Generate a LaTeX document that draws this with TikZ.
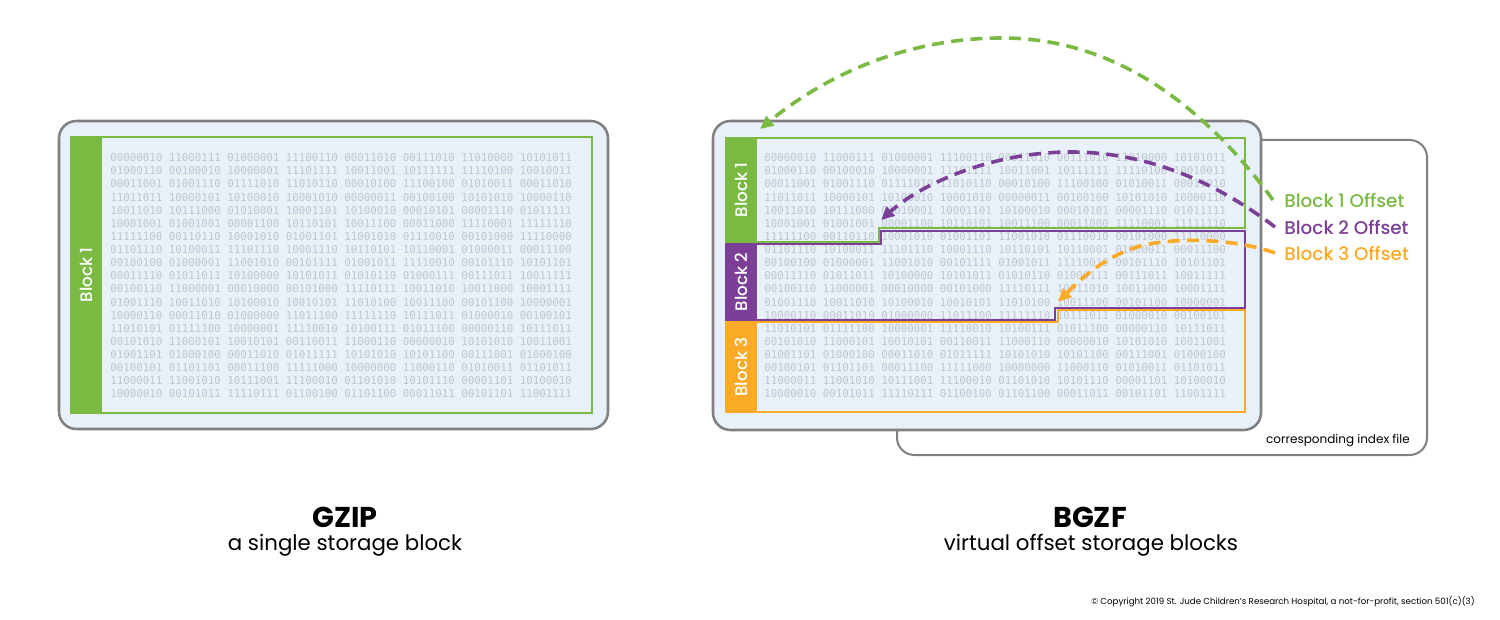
\documentclass[tikz,border=0pt]{standalone}
\usepackage{fontspec}
\setmainfont{Poppins}
\newfontfamily\medfont{Poppins Medium}
\newfontfamily\binfont{DejaVu Sans Mono}
\usetikzlibrary{arrows.meta}

\definecolor{blkgreen}{RGB}{122,186,67}
\definecolor{blkpurple}{RGB}{123,63,152}
\definecolor{blkorange}{RGB}{250,170,38}
\definecolor{panelblue}{RGB}{232,241,250}
\definecolor{boxgray}{RGB}{128,128,128}
\definecolor{bingray}{RGB}{192,197,206}

\newcommand\binrows{%
00000010 11000111 01000001 11100110 00011010 00111010 11010000 10101011,
01000110 00100010 10000001 11101111 10011001 10111111 11110100 10010011,
00011001 01001110 01111010 11010110 00010100 11100100 01010011 00011010,
11011011 10000101 10100010 10001010 00000011 00100100 10101010 10000110,
10011010 10111000 01010001 10001101 10100010 00010101 00001110 01011111,
10001001 01001001 00001100 10110101 10011100 00011000 11110001 11111110,
11111100 00110110 10001010 01001101 11001010 01110010 00101000 11110000,
01101110 10100011 11101110 10001110 10110101 10110001 01000011 00011100,
00100100 01000001 11001010 00101111 01001011 11110010 00101110 10101101,
00011110 01011011 10100000 10101011 01010110 01000111 00111011 10011111,
00100110 11000001 00010000 00101000 11110111 10011010 10011000 10001111,
01001110 10011010 10100010 10010101 11010100 10011100 00101100 10000001,
10000110 00011010 01000000 11011100 11111110 10111011 01000010 00100101,
11010101 01111100 10000001 11110010 10100111 01011100 00000110 10111011,
00101010 11000101 10010101 00110011 11000110 00000010 10101010 10011001,
01001101 01000100 00011010 01011111 10101010 10101100 00111001 01000100,
00100101 01101101 00011100 11111000 10000000 11000110 01010011 01101011,
11000011 11001010 10111001 11100010 01101010 10101110 00001101 10100010,
10000010 00101011 11110111 01100100 01101100 00011011 00101101 11001111}

\begin{document}
\begin{tikzpicture}[x=0.75pt,y=0.75pt,yscale=-1,xscale=1,
  binrow/.style={anchor=west,inner sep=0pt,text=bingray,font=\binfont\fontsize{8.1}{9.8}\selectfont},
  barlabel/.style={rotate=90,inner sep=0.75pt,text=white,font=\medfont\fontsize{12.5}{15}\selectfont},
  offlabel/.style={anchor=west,inner sep=0.75pt,font=\medfont\fontsize{13.8}{16}\selectfont},
  offarrow/.style={line width=2.7,dash pattern={on 9pt off 5.5pt},-{Triangle[length=10pt,width=9pt]}},
  panel/.style={draw=boxgray,line width=1.9,fill=panelblue,rounded corners=13}]
\useasboundingbox (0,0) rectangle (1500,620);

%Shape: Rounded Rect [GZIP panel]
\draw [panel] (59,121) rectangle (608,429);
\fill [blkgreen] (71,137) rectangle (101.5,413);
\draw [blkgreen,line width=1.5] (71,137) rectangle (592,413);
% Text Node
\draw (86,275) node [barlabel] (gzlab) {Block 1};
\foreach \r [count=\i from 0] in \binrows
  \draw (110,157.7+13.13*\i) node [binrow] (gz\i) {\r};

%Shape: Rounded Rect [index file]
\draw [draw=boxgray,line width=1.5,fill=white,rounded corners=13] (897,140) rectangle (1427,455);
% Text Node
\draw (1411,441) node [anchor=east,inner sep=0.75pt,font=\fontsize{9}{11}\selectfont] (idx) {corresponding index file};

%Shape: Rounded Rect [BGZF panel]
\draw [panel] (713,121) rectangle (1261,430);
\foreach \r [count=\i from 0] in \binrows
  \draw (764,157.7+13.13*\i) node [binrow] (bg\i) {\r};
\fill [blkgreen] (725,138) rectangle (757,243);
\fill [blkpurple] (725,243) rectangle (757,321);
\fill [blkorange] (725,321) rectangle (757,412);
%Straight Lines [block outlines]
\draw [blkgreen,line width=1.5] (725,138) -- (1245,138) -- (1245,228.5) -- (878.5,228.5) -- (878.5,242) -- (757,242);
\draw [blkpurple,line width=1.5] (757,244.5) -- (881,244.5) -- (881,231) -- (1245,231) -- (1245,308) -- (1055,308) -- (1055,320) -- (757,320);
\draw [blkorange,line width=1.5] (757,322.5) -- (1057.5,322.5) -- (1057.5,310.5) -- (1245,310.5) -- (1245,412) -- (725,412);
% Text Node
\draw (741,190) node [barlabel] (bglab1) {Block 1};
\draw (741,282) node [barlabel] (bglab2) {Block 2};
\draw (741,367) node [barlabel] (bglab3) {Block 3};

% Text Node
\draw (1283,200) node [offlabel,text=blkgreen] (off1) {Block 1 Offset};
\draw (1283,227) node [offlabel,text=blkpurple] (off2) {Block 2 Offset};
\draw (1283,253) node [offlabel,text=blkorange] (off3) {Block 3 Offset};
\coordinate (tip1) at (760,129);
\coordinate (tip2) at (881,220);
\coordinate (tip3) at (1058,302);

%Curve Lines [offset arrows]
\draw [offarrow,blkgreen] ([xshift=-7.5pt]off1.west) .. controls (1200,100) and (1110,38) .. (1002,38) .. controls (900,38) and (820,80) .. (tip1);
\draw [offarrow,blkpurple] ([xshift=-6pt]off2.west) .. controls (1200,170) and (1130,152) .. (1071,152) .. controls (990,152) and (920,185) .. (tip2);
\draw [offarrow,blkorange] ([xshift=-6pt]off3.west) .. controls (1240,240) and (1180,236) .. (1140,246) .. controls (1100,258) and (1075,285) .. (tip3);

% Text Node
\draw (345,517) node [inner sep=0.75pt,font=\bfseries\fontsize{21.5}{25}\selectfont] (gzt) {GZIP};
\draw (345,545) node [inner sep=0.75pt,font=\fontsize{16}{19}\selectfont] (gzs) {a single storage block};
\draw (1090,517) node [inner sep=0.75pt,font=\bfseries\fontsize{21.5}{25}\selectfont] (bgt) {BGZF};
\draw (1091,545) node [inner sep=0.75pt,font=\fontsize{16}{19}\selectfont] (bgs) {virtual offset storage blocks};
\draw (1476,602) node [anchor=east,inner sep=0.75pt,font=\fontsize{6.5}{8}\selectfont] (copy) {© Copyright 2019 St. Jude Children's Research Hospital, a not-for-profit, section 501(c)(3)};

\end{tikzpicture}
\end{document}
